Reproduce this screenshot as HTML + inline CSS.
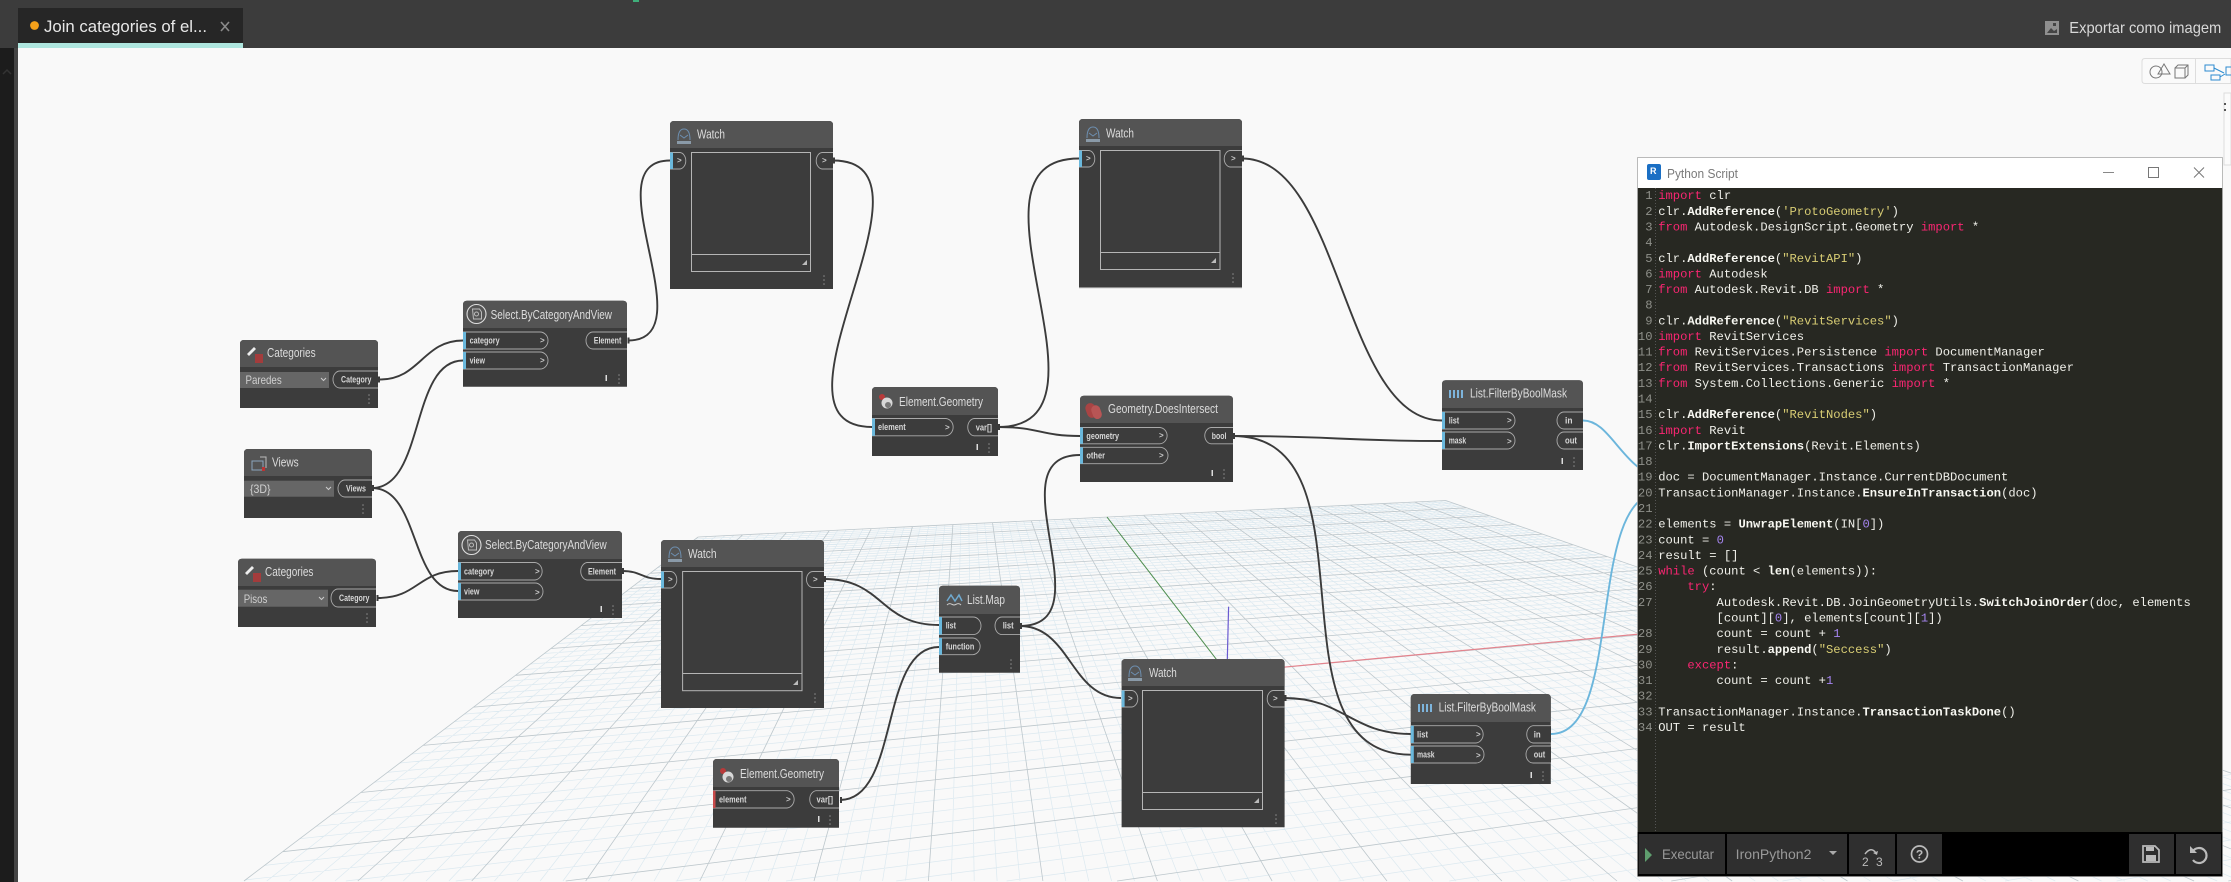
<!DOCTYPE html>
<html><head><meta charset="utf-8"><title>Join categories of elements</title>
<style>
html,body{margin:0;padding:0;background:#f9f9f9;width:2231px;height:882px;overflow:hidden}
svg{display:block;position:absolute;left:0;top:0;overflow:hidden}
text{font-family:"Liberation Sans",sans-serif;white-space:pre}
.n{fill:#3c3c3c}.hd{fill:#545454}
.t{font-size:13px;fill:#dcdcdc}
.p{font-size:9.5px;font-weight:bold;fill:#d8d8d8}
.c{font-size:8px;font-weight:bold;fill:#c8c8c8}
.pt{fill:#3c3c3c;stroke:#aaa;stroke-width:.9}
.m{fill:#6ab8dc}
.dd{fill:#666}
.ddt{font-size:12px;fill:#d0d0d0}
.bx{fill:#3c3c3c;stroke:#b5b5b5;stroke-width:1}
.w{fill:none;stroke:#3b3b3b;stroke-width:1.9}
.b{fill:none;stroke:#6cb6dc;stroke-width:1.9}
.code text{font-family:"Liberation Mono",monospace;font-size:12.17px;fill:#f0f0ea}
.code .g{fill:#8f908a}
.k{fill:#f92672}.s{fill:#d8cd74}.v{fill:#a585f0}.f{font-weight:bold;fill:#f8f8f2}
.tb{fill:#2f2f2f}.tt{font-size:13.5px;fill:#999}
</style></head><body>
<svg id="s" xmlns="http://www.w3.org/2000/svg" width="2231" height="882" viewBox="0 0 2231 882">
<defs>
<g id="iw"><path d="M2 12C2 3 5 1 8 1s6 2 6 11M4 7l4 3 4-3" fill="none" stroke="#6d8fb0" stroke-width="1"/><rect x="1" y="13" width="14" height="3" fill="#8a9aa8"/></g>
<g id="is"><circle cx="10" cy="10" r="9.5" fill="none" stroke="#ddd" stroke-width="1.1"/><path d="M6 5h7l2 3v7H7z" fill="none" stroke="#bbb" stroke-width="1"/><circle cx="10" cy="10" r="2" fill="none" stroke="#bbb"/></g>
<g id="ic"><path d="M1 8l7-7 2 2-7 7z" fill="#eee"/><rect x="9" y="8" width="8" height="9" fill="#a33c3c"/></g>
<g id="ie"><circle cx="3" cy="3" r="3" fill="#b83a3a"/><circle cx="8" cy="9" r="5.5" fill="#d8d8d8"/><circle cx="9" cy="11" r="3" fill="#777"/></g>
<g id="il"><path d="M1 1v8M5 1v8M9 1v8M13 1v8" stroke="#7db4dc" stroke-width="2"/></g>
<g id="id"><rect x="1" y="2" width="10" height="15" rx="5" fill="#a94444" transform="rotate(-20 6 9)"/><rect x="7" y="4" width="9" height="14" rx="4.5" fill="#b85555" transform="rotate(-20 12 11)"/></g>
<g id="iv"><rect x="1" y="5" width="11" height="9" fill="none" stroke="#8aa5bd"/><path d="M9 1h6v11" fill="none" stroke="#bbb"/><rect x="11" y="11" width="3" height="4" fill="#b33"/></g>
<g id="im"><path d="M1 8l4-6 4 6 4-6 3 6" fill="none" stroke="#6fa9cf" stroke-width="1.5"/><path d="M1 12c3-3 5 0 7 0s4-3 7 0" fill="none" stroke="#ccc"/></g>
<g id="dt"><circle cx="0" cy="0" r=".8" fill="#888"/><circle cx="0" cy="4" r=".8" fill="#888"/><circle cx="0" cy="8" r=".8" fill="#888"/></g>
<path id="tri" d="M5 0v5H0z" fill="#bbb"/>
</defs>

<rect width="2231" height="882" fill="#f9f9f9"/>
<path id="gm" fill="none" stroke="#dce9f0" stroke-width=".7"/>
<path id="gM" fill="none" stroke="#bdc7cc" stroke-width=".8"/>
<path d="M1226.5 672.5L1640 634" stroke="#e4828c" stroke-width="1.2"/>
<path d="M1226.5 672.5L1107 517" stroke="#4f8f4f" stroke-width="1"/>
<path d="M1227 672L1228.6 606.7" stroke="#6a5ad0" stroke-width="1.2"/>

<!-- top chrome -->
<rect width="2231" height="48" fill="#3c3c3c"/>
<rect x="18" y="8" width="225" height="35" fill="#262626"/>
<rect x="18" y="43" width="225" height="5" fill="#aee6de"/>
<circle cx="34.5" cy="25.5" r="4.4" fill="#f5a11a"/>
<text x="44" y="32" font-size="17" fill="#e8e8e8" textLength="163" lengthAdjust="spacingAndGlyphs">Join categories of el...</text>
<path d="M221 22l8 9M229 22l-8 9" stroke="#8a8a8a" stroke-width="1.6"/>
<rect x="633" y="0" width="6" height="2" fill="#3fae7a"/>
<rect x="2045" y="21" width="14" height="14" fill="#8f8f8f"/><path d="M2047 33l4-5 3 3 3-2v4z" fill="#444"/><rect x="2053" y="23" width="3" height="3" fill="#444"/>
<text x="2069.3" y="33" font-size="16" fill="#d8d8d8" textLength="152" lengthAdjust="spacingAndGlyphs">Exportar como imagem</text>
<rect x="0" y="48" width="14" height="834" fill="#1c1c1c"/>
<rect x="14" y="48" width="4" height="834" fill="#454545"/>
<path d="M3 74l4-4 4 4" fill="none" stroke="#333" stroke-width="1.5"/>

<!-- view toggle -->
<path d="M2231 58.500H2145q-3 0-3 3v19q0 3 3 3H2231z" fill="#fafafa" stroke="#ddd"/>
<path d="M2195.5 59v24" stroke="#ddd"/>
<circle cx="2156" cy="72" r="6" fill="none" stroke="#777"/><path d="M2158 74l6-10 6 10z" fill="none" stroke="#777"/><path d="M2175 68h10v10h-10zM2175 68l3-3h10v10l-3 3M2185 68l3-3" fill="none" stroke="#777"/>
<rect x="2205" y="65" width="9" height="6" fill="none" stroke="#2c8bd0"/><rect x="2211" y="75" width="9" height="5" fill="none" stroke="#2c8bd0"/><path d="M2214 68l10 5M2220 77l5-3" stroke="#2c8bd0" fill="none"/><path d="M2231 67h-5v8h5" fill="none" stroke="#2c8bd0"/>
<path d="M2231 93h-7v72h7z" fill="#fbfbfb" stroke="#ddd"/>
<rect x="2224" y="103" width="2" height="2" fill="#555"/><rect x="2224" y="109" width="2" height="2" fill="#555"/>

<!-- wires -->
<path class="w" d="M380 379.5C420 379.5 423 340.5 463 340.5"/>
<path class="w" d="M372 488C425 488 410 360.5 463 360.5"/>
<path class="w" d="M372 488C420 488 410 591 458 591"/>
<path class="w" d="M378 598C418 598 418 571 458 571"/>
<path class="w" d="M628 340.5C708 340.5 590 160.5 670 160.5"/>
<path class="w" d="M833 160.5C953 160.5 752 427 872 427"/>
<path class="w" d="M998 427C1129 427 948 158.5 1079 158.5"/>
<path class="w" d="M998 427C1040 427 1040 436 1080 436"/>
<path class="w" d="M1020 626C1108 626 992 455 1080 455"/>
<path class="w" d="M1020 626C1070 626 1071 698 1121 698"/>
<path class="w" d="M824 579C884 579 879 625 939 625"/>
<path class="w" d="M840 800C900 800 879 647 939 647"/>
<path class="w" d="M622 571C642 571 641 579 661 579"/>
<path class="w" d="M1242 158.5C1342 158.5 1342 420.5 1442 420.5"/>
<path class="w" d="M1233 436C1333 436 1342 441 1442 441"/>
<path class="w" d="M1233 436C1383 436 1261 754.7 1411 754.7"/>
<path class="w" d="M1284 698C1344 698 1351 734 1411 734"/>
<path class="b" d="M1551 734C1625 734 1585 493 1660 493"/>
<path class="b" d="M1583 420.5C1610 420.5 1620 465 1660 480"/>
<path d="M379 376.500v6M628.500 337.500v6M373 485v6M377.500 595v6M623 568v6M825 576v6M834 157.500v6M999 424v6M1021 623v6M841 797v6M1243 155.500v6M1234 433v6M1285.500 695v6" stroke="#3b3b3b" stroke-width="2" fill="none"/>

<!-- Categories 1 -->
<path class="n" d="M240 344q0-4 4-4h130q4 0 4 4v64H240z"/><path class="hd" d="M240 344q0-4 4-4h130q4 0 4 4v23H240z"/>
<use href="#ic" x="246" y="346"/><text class="t" x="267" y="357" textLength="48.6" lengthAdjust="spacingAndGlyphs">Categories</text>
<rect class="dd" x="240" y="372" width="89" height="16"/><text class="ddt" x="245.5" y="384" textLength="36.2" lengthAdjust="spacingAndGlyphs">Paredes</text><path d="M321 378l2.5 2.5 2.5-2.5" stroke="#ccc" fill="none"/>
<path class="pt" d="M378 371H340a7 8.5 0 0 0 0 17H378"/><text class="p" x="341" y="382.5" textLength="30.4" lengthAdjust="spacingAndGlyphs">Category</text><use href="#dt" x="369" y="395"/>

<!-- Select 1 -->
<path class="n" d="M463 304.700q0-4 4-4h156q4 0 4 4V386.700H463z"/><path class="hd" d="M463 304.700q0-4 4-4h156q4 0 4 4V328H463z"/>
<use href="#is" x="466.500" y="304"/><text class="t" x="490.600" y="319" textLength="121.400" lengthAdjust="spacingAndGlyphs">Select.ByCategoryAndView</text>
<path class="pt" d="M463 332H540a8 8.500 0 0 1 0 17H463"/><rect class="m" x="463" y="332" width="3" height="17"/><text class="p" x="469.600" y="343.500" textLength="30" lengthAdjust="spacingAndGlyphs">category</text><text class="c" x="540" y="343">&gt;</text>
<path class="pt" d="M463 352H540a8 8.500 0 0 1 0 17H463"/><rect class="m" x="463" y="352" width="3" height="17"/><text class="p" x="469.600" y="363.500" textLength="15.400" lengthAdjust="spacingAndGlyphs">view</text><text class="c" x="540" y="363">&gt;</text>
<path class="pt" d="M627 332H593a7 8.500 0 0 0 0 17H627"/><text class="p" x="593.700" y="343.500" textLength="27.700" lengthAdjust="spacingAndGlyphs">Element</text>
<rect x="605.500" y="375" width="1.500" height="6" fill="#ddd"/><use href="#dt" x="619" y="375"/>

<!-- Views -->
<path class="n" d="M244 453q0-4 4-4h120q4 0 4 4v65H244z"/><path class="hd" d="M244 453q0-4 4-4h120q4 0 4 4v23H244z"/>
<use href="#iv" x="251" y="456"/><text class="t" x="272" y="466.700" textLength="26.700" lengthAdjust="spacingAndGlyphs">Views</text>
<rect class="dd" x="244" y="480.700" width="90" height="16"/><text class="ddt" x="250" y="493" textLength="20.500" lengthAdjust="spacingAndGlyphs">{3D}</text><path d="M326 487l2.500 2.500 2.500-2.500" stroke="#ccc" fill="none"/>
<path class="pt" d="M372 480H345a7 8.500 0 0 0 0 17H372"/><text class="p" x="346" y="491.500" textLength="20" lengthAdjust="spacingAndGlyphs">Views</text><use href="#dt" x="363" y="505"/>

<!-- Categories 2 -->
<path class="n" d="M238 562.700q0-4 4-4h130q4 0 4 4V627H238z"/><path class="hd" d="M238 562.700q0-4 4-4h130q4 0 4 4V586H238z"/>
<use href="#ic" x="244" y="565"/><text class="t" x="265" y="576" textLength="48.400" lengthAdjust="spacingAndGlyphs">Categories</text>
<rect class="dd" x="238" y="589.700" width="90" height="17"/><text class="ddt" x="243.700" y="603" textLength="23.700" lengthAdjust="spacingAndGlyphs">Pisos</text><path d="M319 597l2.500 2.500 2.500-2.500" stroke="#ccc" fill="none"/>
<path class="pt" d="M376 589H338a7 9 0 0 0 0 18H376"/><text class="p" x="339" y="601" textLength="30.400" lengthAdjust="spacingAndGlyphs">Category</text><use href="#dt" x="367" y="614"/>

<!-- Select 2 -->
<path class="n" d="M458 535q0-4 4-4h156q4 0 4 4V618H458z"/><path class="hd" d="M458 535q0-4 4-4h156q4 0 4 4V559H458z"/>
<use href="#is" x="461.500" y="535"/><text class="t" x="485" y="549" textLength="121.700" lengthAdjust="spacingAndGlyphs">Select.ByCategoryAndView</text>
<path class="pt" d="M458 562.500H535a8 8.800 0 0 1 0 17.500H458"/><rect class="m" x="458" y="562.500" width="3" height="17.500"/><text class="p" x="464" y="574.500" textLength="30" lengthAdjust="spacingAndGlyphs">category</text><text class="c" x="535" y="574">&gt;</text>
<path class="pt" d="M458 583H535a8 8.500 0 0 1 0 17H458"/><rect class="m" x="458" y="583" width="3" height="17"/><text class="p" x="464" y="594.500" textLength="15.400" lengthAdjust="spacingAndGlyphs">view</text><text class="c" x="535" y="595">&gt;</text>
<path class="pt" d="M622 562.500H587a7 8.800 0 0 0 0 17.500H622"/><text class="p" x="588" y="574.500" textLength="28" lengthAdjust="spacingAndGlyphs">Element</text>
<rect x="600.500" y="606" width="1.500" height="6" fill="#ddd"/><use href="#dt" x="613" y="606"/>

<!-- Watch 1 -->
<path class="n" d="M670 125q0-4 4-4h155q4 0 4 4V289H670z"/><path class="hd" d="M670 125q0-4 4-4h155q4 0 4 4V148H670z"/>
<use href="#iw" x="676" y="128"/><text class="t" x="697" y="138.700" textLength="28" lengthAdjust="spacingAndGlyphs">Watch</text>
<rect class="bx" x="691.500" y="152.500" width="119" height="119"/><path d="M691.500 254.500h119" stroke="#b5b5b5"/><use href="#tri" x="802" y="260"/>
<path class="pt" d="M670 152.500H680a6.500 8.300 0 0 1 0 16.500H670"/><rect class="m" x="670" y="152.500" width="3" height="16.500"/><text class="c" x="677" y="163">&gt;</text>
<path class="pt" d="M833 152.500H822a6.500 8.300 0 0 0 0 16.500H833"/><text class="c" x="822" y="163">&gt;</text><use href="#dt" x="824" y="276"/>

<!-- Watch 2 -->
<path class="n" d="M1079 123q0-4 4-4h155q4 0 4 4V287.700H1079z"/><path class="hd" d="M1079 123q0-4 4-4h155q4 0 4 4V146H1079z"/>
<use href="#iw" x="1085" y="126"/><text class="t" x="1106" y="137.700" textLength="28" lengthAdjust="spacingAndGlyphs">Watch</text>
<rect class="bx" x="1100.500" y="150.500" width="119.500" height="119"/><path d="M1100.500 252.500h119.500" stroke="#b5b5b5"/><use href="#tri" x="1211" y="258"/>
<path class="pt" d="M1079 150.500H1089a6.500 8.300 0 0 1 0 16.500H1079"/><rect class="m" x="1079" y="150.500" width="3" height="16.500"/><text class="c" x="1086" y="161">&gt;</text>
<path class="pt" d="M1242 150.500H1230a6.500 8.300 0 0 0 0 16.500H1242"/><text class="c" x="1231" y="161">&gt;</text><use href="#dt" x="1233" y="274"/>
<path d="M1079 287.700h163" stroke="#aaa"/>

<!-- Watch 3 -->
<path class="n" d="M661 544q0-4 4-4h155q4 0 4 4V708H661z"/><path class="hd" d="M661 544q0-4 4-4h155q4 0 4 4V567H661z"/>
<use href="#iw" x="667" y="546"/><text class="t" x="688" y="558" textLength="28.500" lengthAdjust="spacingAndGlyphs">Watch</text>
<rect class="bx" x="682.600" y="571.500" width="119.400" height="119.200"/><path d="M682.600 673.500h119.400" stroke="#b5b5b5"/><use href="#tri" x="793" y="680"/>
<path class="pt" d="M661 571.500H671a6.500 8.300 0 0 1 0 16.500H661"/><rect class="m" x="661" y="571.500" width="3" height="16.500"/><text class="c" x="668" y="582">&gt;</text>
<path class="pt" d="M824 571.500H813a6.500 8 0 0 0 0 16H824"/><text class="c" x="813" y="582">&gt;</text><use href="#dt" x="815" y="694"/>

<!-- Watch 4 -->
<path class="n" d="M1121.600 663q0-4 4-4h155q4 0 4 4V827.300H1121.600z"/><path class="hd" d="M1121.600 663q0-4 4-4h155q4 0 4 4V686H1121.600z"/>
<use href="#iw" x="1127" y="665"/><text class="t" x="1149" y="677" textLength="27.800" lengthAdjust="spacingAndGlyphs">Watch</text>
<rect class="bx" x="1142.500" y="690.500" width="120" height="119"/><path d="M1142.500 792.500h120" stroke="#b5b5b5"/><use href="#tri" x="1254" y="798"/>
<path class="pt" d="M1121.600 690.500H1132a6.500 8.300 0 0 1 0 16.500H1121.600"/><rect class="m" x="1121.600" y="690.500" width="3" height="16.500"/><text class="c" x="1128" y="701">&gt;</text>
<path class="pt" d="M1284.500 690.500H1273a6.500 8.300 0 0 0 0 16.500H1284.500"/><text class="c" x="1273" y="701">&gt;</text><use href="#dt" x="1276" y="815"/>

<!-- Element.Geometry 1 -->
<path class="n" d="M872 391q0-4 4-4h118q4 0 4 4V456H872z"/><path class="hd" d="M872 391q0-4 4-4h118q4 0 4 4V415H872z"/>
<use href="#ie" x="879" y="394"/><text class="t" x="899" y="406" textLength="84" lengthAdjust="spacingAndGlyphs">Element.Geometry</text>
<path class="pt" d="M872 418.500H946a8 8.700 0 0 1 0 17.300H872"/><rect class="m" x="872" y="418.500" width="3" height="17.300"/><text class="p" x="878" y="430" textLength="27.700" lengthAdjust="spacingAndGlyphs">element</text><text class="c" x="945" y="430">&gt;</text>
<path class="pt" d="M998 418.500H974a7 8.700 0 0 0 0 17.300H998"/><text class="p" x="975.700" y="430.500" textLength="16.300" lengthAdjust="spacingAndGlyphs">var[]</text>
<rect x="976.500" y="444" width="1.500" height="6" fill="#ddd"/><use href="#dt" x="989" y="444"/>

<!-- Element.Geometry 2 -->
<path class="n" d="M713 763q0-4 4-4h118q4 0 4 4V827.700H713z"/><path class="hd" d="M713 763q0-4 4-4h118q4 0 4 4V787H713z"/>
<use href="#ie" x="720" y="768"/><text class="t" x="740" y="778" textLength="84" lengthAdjust="spacingAndGlyphs">Element.Geometry</text>
<path class="pt" d="M713 790.700H787a8 8.700 0 0 1 0 17.300H713"/><rect x="713" y="790.700" width="2.500" height="17.300" fill="#c94a4a"/><text class="p" x="719" y="802.500" textLength="27.500" lengthAdjust="spacingAndGlyphs">element</text><text class="c" x="786" y="802">&gt;</text>
<path class="pt" d="M839 790.700H816a7 8.700 0 0 0 0 17.300H839"/><text class="p" x="816.500" y="802.500" textLength="16.500" lengthAdjust="spacingAndGlyphs">var[]</text>
<rect x="818" y="816" width="1.500" height="6" fill="#ddd"/><use href="#dt" x="830" y="816"/>

<!-- Geometry.DoesIntersect -->
<path class="n" d="M1080 399.700q0-4 4-4h145q4 0 4 4V482H1080z"/><path class="hd" d="M1080 399.700q0-4 4-4h145q4 0 4 4V423H1080z"/>
<use href="#id" x="1085" y="401"/><text class="t" x="1108" y="413" textLength="110" lengthAdjust="spacingAndGlyphs">Geometry.DoesIntersect</text>
<path class="pt" d="M1080 427.500H1160a8 8.200 0 0 1 0 16.300H1080"/><rect class="m" x="1080" y="427.500" width="3" height="16.300"/><text class="p" x="1086.400" y="439" textLength="32.600" lengthAdjust="spacingAndGlyphs">geometry</text><text class="c" x="1159" y="438">&gt;</text>
<path class="pt" d="M1080 447.300H1160a8 8.200 0 0 1 0 16.400H1080"/><rect class="m" x="1080" y="447.300" width="3" height="16.400"/><text class="p" x="1086.400" y="458.700" textLength="18.600" lengthAdjust="spacingAndGlyphs">other</text><text class="c" x="1159" y="458">&gt;</text>
<path class="pt" d="M1233 427.500H1211a7 8.200 0 0 0 0 16.300H1233"/><text class="p" x="1211.800" y="439" textLength="14.600" lengthAdjust="spacingAndGlyphs">bool</text>
<rect x="1211.500" y="470" width="1.500" height="6" fill="#ddd"/><use href="#dt" x="1224" y="470"/>

<!-- List.Map -->
<path class="n" d="M939 589.700q0-4 4-4h73q4 0 4 4V672.700H939z"/><path class="hd" d="M939 589.700q0-4 4-4h73q4 0 4 4V614H939z"/>
<use href="#im" x="946" y="593"/><text class="t" x="967" y="604" textLength="38" lengthAdjust="spacingAndGlyphs">List.Map</text>
<path class="pt" d="M939 617H973a8 8.800 0 0 1 0 17.600H939"/><rect class="m" x="939" y="617" width="3" height="17.600"/><text class="p" x="945.700" y="628.500" textLength="10.300" lengthAdjust="spacingAndGlyphs">list</text>
<path class="pt" d="M939 638H973a8 8.400 0 0 1 0 16.700H939"/><rect class="m" x="939" y="638" width="3" height="16.700"/><text class="p" x="945.700" y="649.500" textLength="28.600" lengthAdjust="spacingAndGlyphs">function</text>
<path class="pt" d="M1020 617H1002a7 8.800 0 0 0 0 17.600H1020"/><text class="p" x="1002.700" y="628.500" textLength="11" lengthAdjust="spacingAndGlyphs">list</text><use href="#dt" x="1011" y="660"/>

<!-- Filter 1 -->
<path class="n" d="M1442 384.300q0-4 4-4h133q4 0 4 4V470H1442z"/><path class="hd" d="M1442 384.300q0-4 4-4h133q4 0 4 4V408H1442z"/>
<use href="#il" x="1449" y="389"/><text class="t" x="1470" y="397.700" textLength="97" lengthAdjust="spacingAndGlyphs">List.FilterByBoolMask</text>
<path class="pt" d="M1442 412H1507a8 8.500 0 0 1 0 17H1442"/><rect class="m" x="1442" y="412" width="3" height="17"/><text class="p" x="1448.700" y="423.500" textLength="10.500" lengthAdjust="spacingAndGlyphs">list</text><text class="c" x="1507" y="423">&gt;</text>
<path class="pt" d="M1442 432H1507a8 8.500 0 0 1 0 17H1442"/><rect class="m" x="1442" y="432" width="3" height="17"/><text class="p" x="1448.700" y="443.500" textLength="17.500" lengthAdjust="spacingAndGlyphs">mask</text><text class="c" x="1507" y="444">&gt;</text>
<path class="pt" d="M1583 412H1564a7 8.500 0 0 0 0 17H1583"/><text class="p" x="1565" y="423.500" textLength="7.500" lengthAdjust="spacingAndGlyphs">in</text>
<path class="pt" d="M1583 432H1564a7 8.500 0 0 0 0 17H1583"/><text class="p" x="1565" y="443.500" textLength="12" lengthAdjust="spacingAndGlyphs">out</text>
<rect x="1561.500" y="458" width="1.500" height="6" fill="#ddd"/><use href="#dt" x="1574" y="458"/>

<!-- Filter 2 -->
<path class="n" d="M1410.800 698q0-4 4-4h132q4 0 4 4V784H1410.800z"/><path class="hd" d="M1410.800 698q0-4 4-4h132q4 0 4 4V722H1410.800z"/>
<use href="#il" x="1418" y="703"/><text class="t" x="1438.600" y="711.700" textLength="97.400" lengthAdjust="spacingAndGlyphs">List.FilterByBoolMask</text>
<path class="pt" d="M1410.800 725.700H1476a8 8.700 0 0 1 0 17.300H1410.800"/><rect class="m" x="1410.800" y="725.700" width="3" height="17.300"/><text class="p" x="1417" y="737.500" textLength="11" lengthAdjust="spacingAndGlyphs">list</text><text class="c" x="1476" y="737">&gt;</text>
<path class="pt" d="M1410.800 746H1476a8 8.500 0 0 1 0 17H1410.800"/><rect class="m" x="1410.800" y="746" width="3" height="17"/><text class="p" x="1417" y="757.500" textLength="17.600" lengthAdjust="spacingAndGlyphs">mask</text><text class="c" x="1476" y="758">&gt;</text>
<path class="pt" d="M1551 725.700H1533a7 8.700 0 0 0 0 17.300H1551"/><text class="p" x="1533.700" y="737.500" textLength="7" lengthAdjust="spacingAndGlyphs">in</text>
<path class="pt" d="M1551 746H1533a7 8.500 0 0 0 0 17H1551"/><text class="p" x="1533.700" y="757.500" textLength="11.500" lengthAdjust="spacingAndGlyphs">out</text>
<rect x="1530.500" y="772" width="1.500" height="6" fill="#ddd"/><use href="#dt" x="1543" y="772"/>

<!-- Python window -->
<rect x="1637.500" y="157.500" width="585" height="719" fill="#272822" stroke="#aaa" stroke-width=".7"/>
<rect x="1637.800" y="157.800" width="584.400" height="30.200" fill="#fff"/>
<rect x="1647" y="164" width="14" height="16" rx="2" fill="#1a6fc4"/><text x="1650" y="174" font-size="9" font-weight="bold" fill="#fff">R</text>
<text x="1667" y="178" font-size="13" fill="#7a7a7a" textLength="71" lengthAdjust="spacingAndGlyphs">Python Script</text>
<path d="M2103 172.500h11" stroke="#888"/><rect x="2148.500" y="167.500" width="10" height="10" fill="none" stroke="#777"/><path d="M2194 167.500l10 10M2204 167.500l-10 10" stroke="#777"/>
<path d="M1655.500 188V832" stroke="#555" stroke-dasharray="1 2"/>
<g class="code" transform="translate(0 -.8)">
<g text-anchor="end">
<text class="g" x="1652.500" y="200">1</text><text class="g" x="1652.500" y="215.600">2</text><text class="g" x="1652.500" y="231.300">3</text><text class="g" x="1652.500" y="246.900">4</text><text class="g" x="1652.500" y="262.600">5</text><text class="g" x="1652.500" y="278.200">6</text><text class="g" x="1652.500" y="293.800">7</text><text class="g" x="1652.500" y="309.500">8</text><text class="g" x="1652.500" y="325.100">9</text><text class="g" x="1652.500" y="340.800">10</text><text class="g" x="1652.500" y="356.400">11</text><text class="g" x="1652.500" y="372">12</text><text class="g" x="1652.500" y="387.700">13</text><text class="g" x="1652.500" y="403.300">14</text><text class="g" x="1652.500" y="419">15</text><text class="g" x="1652.500" y="434.600">16</text><text class="g" x="1652.500" y="450.200">17</text><text class="g" x="1652.500" y="465.900">18</text><text class="g" x="1652.500" y="481.500">19</text><text class="g" x="1652.500" y="497.200">20</text><text class="g" x="1652.500" y="512.800">21</text><text class="g" x="1652.500" y="528.400">22</text><text class="g" x="1652.500" y="544.100">23</text><text class="g" x="1652.500" y="559.700">24</text><text class="g" x="1652.500" y="575.400">25</text><text class="g" x="1652.500" y="591">26</text><text class="g" x="1652.500" y="606.600">27</text><text class="g" x="1652.500" y="637.900">28</text><text class="g" x="1652.500" y="653.600">29</text><text class="g" x="1652.500" y="669.200">30</text><text class="g" x="1652.500" y="684.800">31</text><text class="g" x="1652.500" y="700.500">32</text><text class="g" x="1652.500" y="716.100">33</text><text class="g" x="1652.500" y="731.800">34</text>
</g>
<text x="1658.200" y="200"><tspan class="k">import</tspan> clr</text>
<text x="1658.200" y="215.600">clr.<tspan class="f">AddReference</tspan>(<tspan class="s">'ProtoGeometry'</tspan>)</text>
<text x="1658.200" y="231.300"><tspan class="k">from</tspan> Autodesk.DesignScript.Geometry <tspan class="k">import</tspan> *</text>
<text x="1658.200" y="262.600">clr.<tspan class="f">AddReference</tspan>(<tspan class="s">"RevitAPI"</tspan>)</text>
<text x="1658.200" y="278.200"><tspan class="k">import</tspan> Autodesk</text>
<text x="1658.200" y="293.800"><tspan class="k">from</tspan> Autodesk.Revit.DB <tspan class="k">import</tspan> *</text>
<text x="1658.200" y="325.100">clr.<tspan class="f">AddReference</tspan>(<tspan class="s">"RevitServices"</tspan>)</text>
<text x="1658.200" y="340.800"><tspan class="k">import</tspan> RevitServices</text>
<text x="1658.200" y="356.400"><tspan class="k">from</tspan> RevitServices.Persistence <tspan class="k">import</tspan> DocumentManager</text>
<text x="1658.200" y="372"><tspan class="k">from</tspan> RevitServices.Transactions <tspan class="k">import</tspan> TransactionManager</text>
<text x="1658.200" y="387.700"><tspan class="k">from</tspan> System.Collections.Generic <tspan class="k">import</tspan> *</text>
<text x="1658.200" y="419">clr.<tspan class="f">AddReference</tspan>(<tspan class="s">"RevitNodes"</tspan>)</text>
<text x="1658.200" y="434.600"><tspan class="k">import</tspan> Revit</text>
<text x="1658.200" y="450.200">clr.<tspan class="f">ImportExtensions</tspan>(Revit.Elements)</text>
<text x="1658.200" y="481.500">doc = DocumentManager.Instance.CurrentDBDocument</text>
<text x="1658.200" y="497.200">TransactionManager.Instance.<tspan class="f">EnsureInTransaction</tspan>(doc)</text>
<text x="1658.200" y="528.400">elements = <tspan class="f">UnwrapElement</tspan>(IN[<tspan class="v">0</tspan>])</text>
<text x="1658.200" y="544.100">count = <tspan class="v">0</tspan></text>
<text x="1658.200" y="559.700">result = []</text>
<text x="1658.200" y="575.400"><tspan class="k">while</tspan> (count &lt; <tspan class="f">len</tspan>(elements)):</text>
<text x="1658.200" y="591">    <tspan class="k">try</tspan>:</text>
<text x="1658.200" y="606.600">        Autodesk.Revit.DB.JoinGeometryUtils.<tspan class="f">SwitchJoinOrder</tspan>(doc, elements</text>
<text x="1658.200" y="622.300">        [count][<tspan class="v">0</tspan>], elements[count][<tspan class="v">1</tspan>])</text>
<text x="1658.200" y="637.900">        count = count + <tspan class="v">1</tspan></text>
<text x="1658.200" y="653.600">        result.<tspan class="f">append</tspan>(<tspan class="s">"Seccess"</tspan>)</text>
<text x="1658.200" y="669.200">    <tspan class="k">except</tspan>:</text>
<text x="1658.200" y="684.800">        count = count +<tspan class="v">1</tspan></text>
<text x="1658.200" y="716.100">TransactionManager.Instance.<tspan class="f">TransactionTaskDone</tspan>()</text>
<text x="1658.200" y="731.800">OUT = result</text>
</g>

<!-- toolbar -->
<rect x="1637.800" y="832" width="584.400" height="44.200" fill="#000"/>
<rect class="tb" x="1638.700" y="834" width="86.300" height="40"/>
<rect class="tb" x="1727" y="834" width="120" height="40"/>
<rect class="tb" x="1849" y="834" width="46" height="40"/>
<rect class="tb" x="1897" y="834" width="45" height="40"/>
<rect class="tb" x="2129" y="834" width="45" height="40"/>
<rect class="tb" x="2176" y="834" width="45" height="40"/>
<path d="M1645 848l7 7-7 7z" fill="#5f9e6e"/>
<text class="tt" x="1662" y="859" textLength="52" lengthAdjust="spacingAndGlyphs">Executar</text>
<text class="tt" x="1735.700" y="859" textLength="75.700" lengthAdjust="spacingAndGlyphs">IronPython2</text>
<path d="M1829 851h8l-4 4z" fill="#aaa"/>
<text x="1862" y="866" font-size="12" fill="#bbb">2</text><text x="1876" y="866" font-size="12" fill="#bbb">3</text>
<path d="M1865 854q6-8 11-1" fill="none" stroke="#bbb" stroke-width="1.500"/><path d="M1873 853l4 2 1-4z" fill="#bbb"/>
<circle cx="1919.500" cy="854" r="8" fill="none" stroke="#bbb" stroke-width="1.700"/><text x="1919.500" y="858.500" font-size="12" font-weight="bold" fill="#bbb" text-anchor="middle">?</text>
<path d="M2143 846h12l4 4v12h-16z" fill="none" stroke="#bbb" stroke-width="1.700"/><rect x="2146" y="847" width="8" height="4" fill="#bbb"/><rect x="2146" y="855" width="10" height="6" fill="#bbb"/>
<path d="M2193 851a7.500 7.500 0 1 1 0 9" fill="none" stroke="#bbb" stroke-width="2.200"/><path d="M2190 846v7h7z" fill="#bbb"/>
</svg>
<script>
(function(){
var a=.1729,b=.8494,W=2231,H=881;
function P(u,v){var w=1+a*u+b*v;return [(876.6*u+820.5*v+1226.5)/w,(56*u+283.7*v+672.5)/w];}
function clip(p,q){
 var t0=0,t1=1,dx=q[0]-p[0],dy=q[1]-p[1];
 var ck=[[-dx,p[0]],[dx,W-p[0]],[-dy,p[1]-48],[dy,H-p[1]]];
 for(var i=0;i<4;i++){var c=ck[i][0],r=ck[i][1];
  if(c===0){if(r<0)return '';continue;}
  var t=r/c;
  if(c<0){if(t>t1)return '';if(t>t0)t0=t;}
  else{if(t<t0)return '';if(t<t1)t1=t;}
 }
 return 'M'+(p[0]+t0*dx).toFixed(1)+' '+(p[1]+t0*dy).toFixed(1)+'L'+(p[0]+t1*dx).toFixed(1)+' '+(p[1]+t1*dy).toFixed(1);
}
var m='',M='';
for(var i=-50;i<=50;i++){
 var t=i/50,d='';
 var vm=Math.max(-1,(.03-1-a*t)/b);
 d+=clip(P(t,1),P(t,vm));
 var u0=-1;
 if(1-a+b*t<.03){u0=(.03-1-b*t)/a;}
 if(u0<1){d+=clip(P(u0,t),P(1,t));}
 if(i%5===0){M+=d;}else{m+=d;}
}
document.getElementById('gm').setAttribute('d',m);
document.getElementById('gM').setAttribute('d',M);
})();
</script>
</body></html>
